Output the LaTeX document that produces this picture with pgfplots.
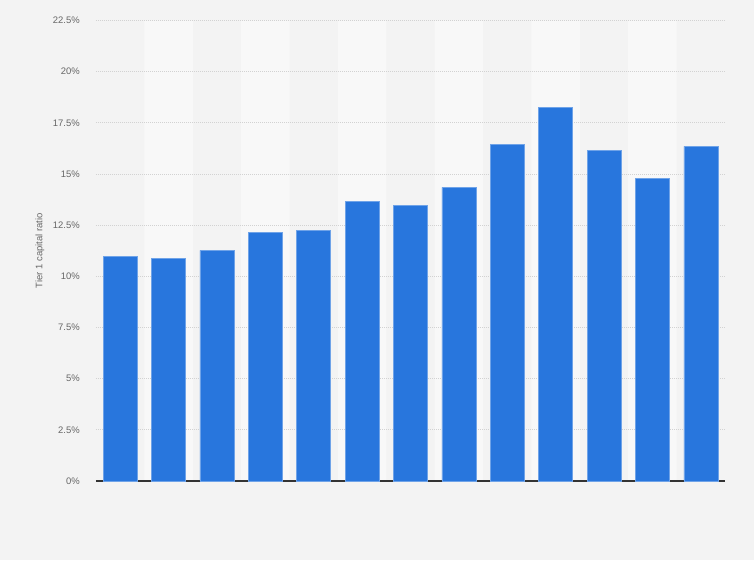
\documentclass[border=0pt]{standalone}
\usepackage{pgfplots}
\pgfplotsset{compat=1.18}
\usepackage{fontspec}
\setmainfont{Liberation Sans}

\definecolor{pagebg}{HTML}{F3F3F3}
\definecolor{stripe}{HTML}{F8F8F8}
\definecolor{barblue}{HTML}{2876DD}
\definecolor{baredge}{HTML}{6FA3E8}
\definecolor{labelgray}{HTML}{666666}
\definecolor{gridgray}{HTML}{D2D2D2}

\pgfplotsset{
	layers/withpage/.define layer set={
		page background,axis background,axis grid,axis ticks,axis lines,
		axis tick labels,main,axis descriptions,axis foreground
	}{},
}

\begin{document}
\begin{tikzpicture}
\begin{axis}[
	set layers=withpage,
	scale only axis,
	width=629bp, height=460.5bp,
	at={(96bp,79bp)}, anchor=south west,
	xmin=-0.5, xmax=12.5,
	ymin=0, ymax=22.5,
	axis x line=bottom, axis y line=left,
	x axis line style={draw=black!80, line width=1.2bp, -},
	y axis line style={draw=none},
	xtick=\empty,
	ytick={0,2.5,...,22.5},
	major tick length=0pt,
	ymajorgrids,
	grid style={gridgray, line width=0.8bp, dash pattern=on 1bp off 1bp},
	yticklabel={\pgfmathprintnumber[assume math mode=true]{\tick}\%},
	yticklabel style={font=\fontsize{9.5}{11}\selectfont, text=labelgray, anchor=east, inner sep=0pt, xshift=-16bp},
	ylabel={Tier 1 capital ratio},
	ylabel style={font=\fontsize{9.5}{11}\selectfont, text=labelgray, at={(axis description cs:-0.089,0.5)}, anchor=center},
	clip=false,
]
\begin{pgfonlayer}{page background}
\fill[pagebg] (rel axis cs:-0.15262,-0.17155) rectangle (rel axis cs:1.04610,1.04452);
\end{pgfonlayer}
% alternating column stripes
\addplot[on layer=axis background, ybar, bar width=1, bar shift=0pt, fill=stripe, draw=none]
coordinates {(1,22.5) (3,22.5) (5,22.5) (7,22.5) (9,22.5) (11,22.5)};
% data
\addplot[ybar, bar width=34bp, bar shift=0pt, fill=barblue, draw=baredge, line width=0.6bp]
coordinates {
	(0,  10.97)
	(1,  10.87)
	(2,  11.27)
	(3,  12.15)
	(4,  12.24)
	(5,  13.66)
	(6,  13.47)
	(7,  14.35)
	(8,  16.45)
	(9,  18.26)
	(10, 16.15)
	(11, 14.78)
	(12, 16.35)
};
\end{axis}
\end{tikzpicture}
\end{document}
